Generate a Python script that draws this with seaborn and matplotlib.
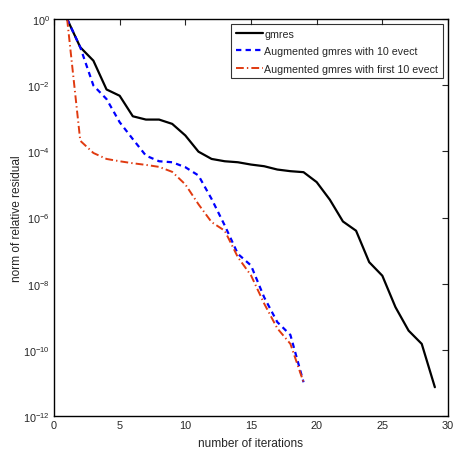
import numpy as np
import pandas as pd
import seaborn as sns
import matplotlib
matplotlib.use("Agg")
import matplotlib.pyplot as plt

# log10 of relative residual norm
iters_gmres = list(range(1, 30))
gmres = [0, -0.855, -1.26, -2.13, -2.32, -2.94, -3.04, -3.04, -3.17, -3.52,
         -4.01, -4.23, -4.30, -4.33, -4.40, -4.45, -4.55, -4.60, -4.63, -4.93,
         -5.46, -6.12, -6.40, -7.35, -7.76, -8.71, -9.42, -9.82, -11.13]

iters_aug = list(range(1, 20))
aug10 = [0, -0.855, -2.01, -2.42, -3.12, -3.63, -4.13, -4.30, -4.33, -4.48,
         -4.73, -5.44, -6.24, -7.1, -7.45, -8.41, -9.16, -9.55, -10.98]
aug_first10 = [0, -3.68, -4.05, -4.23, -4.30, -4.36, -4.41, -4.47, -4.62, -5.0,
               -5.6, -6.14, -6.4, -7.2, -7.75, -8.6, -9.35, -9.82, -10.98]

labels = ["gmres", "Augmented gmres with 10 evect", "Augmented gmres with first 10 evect"]

sns.set_style("white")
plt.rcParams['font.family'] = ['Liberation Sans', 'DejaVu Sans']
plt.rcParams['mathtext.fontset'] = 'custom'
plt.rcParams['mathtext.rm'] = 'Liberation Sans'
plt.rcParams['mathtext.it'] = 'Liberation Sans'

fig = plt.figure(figsize=(4.53, 4.52), dpi=100)
ax = fig.add_axes([54 / 453, 35 / 452, 394 / 453, 397 / 452])

sns.lineplot(x=iters_gmres, y=10.0 ** np.array(gmres), ax=ax, color='black',
             linewidth=1.6, label=labels[0])
sns.lineplot(x=iters_aug, y=10.0 ** np.array(aug10), ax=ax, color='#0000ff',
             linewidth=1.6, linestyle=(0, (2.4, 1.9)), label=labels[1])
sns.lineplot(x=iters_aug, y=10.0 ** np.array(aug_first10), ax=ax, color='#e03a10',
             linewidth=1.4, linestyle=(0, (4, 1.6, 0.7, 1.6)), label=labels[2])

ax.set_yscale('log')
ax.set_xlim(0, 30)
ax.set_ylim(1e-12, 1)
ax.set_xticks([0, 5, 10, 15, 20, 25, 30])
ax.set_yticks([10.0 ** k for k in range(-12, 1, 2)])
ax.yaxis.set_minor_locator(matplotlib.ticker.NullLocator())
ax.tick_params(direction='in', length=4, width=0.8, labelsize=7.8,
               top=True, right=True, pad=3)
for s in ax.spines.values():
    s.set_linewidth(1.0)
    s.set_color('black')

ax.set_xlabel("number of iterations", fontsize=8.6, labelpad=5)
ax.set_ylabel("norm of relative residual", fontsize=8.6)
ax.yaxis.set_label_coords(-31 / 394, 0.5)

leg = ax.legend(loc='upper right', fontsize=7.7, frameon=True, fancybox=False,
                edgecolor='black', handlelength=2.55, handletextpad=0.15,
                borderpad=0.4, labelspacing=0.7, borderaxespad=0.5)
leg.get_frame().set_linewidth(0.8)

fig.savefig("out.png", dpi=100)
